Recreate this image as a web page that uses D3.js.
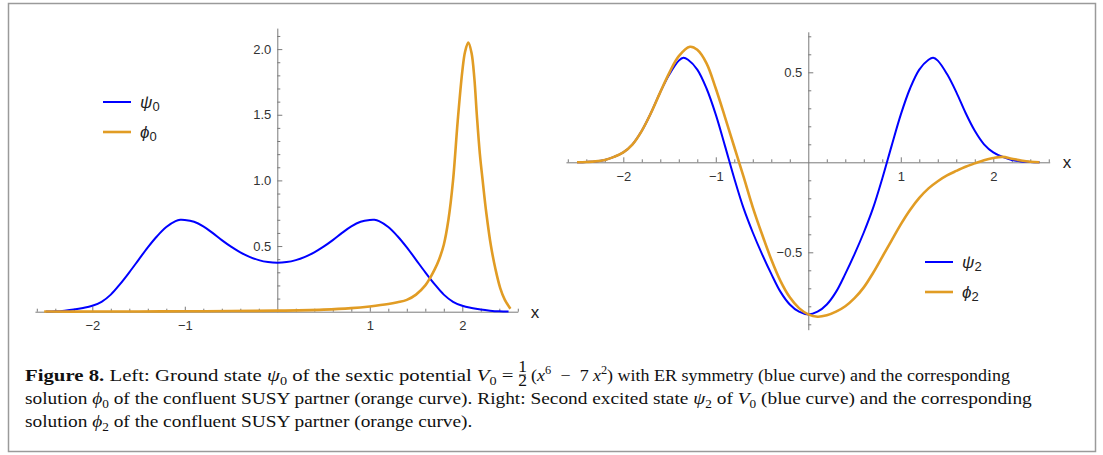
<!DOCTYPE html>
<html>
<head>
<meta charset="utf-8">
<script src="https://d3js.org/d3.v7.min.js"></script>
<style>
    body { margin: 0; background: #fff; }
    .tick text { font-family: "Liberation Sans", Arial, sans-serif; font-size: 13px; fill: #333; }
    .caption { font-family: "Liberation Serif", "DejaVu Serif", serif; font-size: 17.5px; fill: #111; }
</style>
</head>
<body>
<svg id="fig" width="1103" height="455"></svg>
<script>
// left panel: ground state and its partner, [x, y]
const psi0 = [[-2.5,0.001],[-2.4,0.003],[-2.3,0.008],[-2.2,0.016],[-2.1,0.028],[-2.0,0.045],[-1.9,0.075],
    [-1.8,0.13],[-1.7,0.21],[-1.6,0.30],[-1.5,0.395],[-1.4,0.49],[-1.3,0.575],[-1.2,0.645],[-1.1,0.69],
    [-1.05,0.70],[-1.0,0.699],[-0.9,0.685],[-0.8,0.65],[-0.7,0.60],[-0.6,0.545],[-0.5,0.495],[-0.4,0.452],
    [-0.3,0.418],[-0.2,0.393],[-0.1,0.378],[0,0.373],[0.1,0.378],[0.2,0.393],[0.3,0.418],[0.4,0.452],[0.5,0.495],
    [0.6,0.545],[0.7,0.60],[0.8,0.65],[0.9,0.685],[1.0,0.699],[1.05,0.70],[1.1,0.69],[1.2,0.645],[1.3,0.575],
    [1.4,0.49],[1.5,0.395],[1.6,0.30],[1.7,0.21],[1.8,0.13],[1.9,0.075],[2.0,0.045],[2.1,0.028],[2.2,0.016],
    [2.3,0.008],[2.4,0.003],[2.5,0.001]];
const phi0 = [[-2.52,0.001],[-2.0,0.001],[-1.5,0.002],[-1.0,0.003],[-0.5,0.005],[0,0.008],[0.5,0.016],
    [0.8,0.027],[1.0,0.04],[1.2,0.058],[1.3,0.072],[1.4,0.09],[1.5,0.13],[1.6,0.2],[1.65,0.255],[1.7,0.32],
    [1.75,0.40],[1.8,0.51],[1.85,0.70],[1.9,1.0],[1.95,1.45],[2.0,1.83],[2.03,1.98],[2.065,2.05],[2.1,1.97],
    [2.13,1.78],[2.157,1.5],[2.19,1.2],[2.22,1.0],[2.26,0.75],[2.31,0.5],[2.36,0.32],[2.41,0.18],[2.46,0.09],
    [2.52,0.023]];

// right panel: second excited state and its partner
const psi2 = [[-2.5,0.0],[-2.4,0.002],[-2.3,0.005],[-2.2,0.013],[-2.1,0.03],[-2.0,0.055],[-1.9,0.10],
    [-1.8,0.175],[-1.7,0.275],[-1.6,0.39],[-1.5,0.49],[-1.4,0.565],[-1.35,0.581],[-1.3,0.57],[-1.2,0.515],
    [-1.1,0.41],[-1.0,0.265],[-0.9,0.09],[-0.8,-0.09],[-0.7,-0.255],[-0.6,-0.39],[-0.5,-0.51],[-0.4,-0.62],
    [-0.3,-0.72],[-0.2,-0.79],[-0.1,-0.83],[0,-0.845],[0.1,-0.83],[0.2,-0.79],[0.3,-0.72],[0.4,-0.62],
    [0.5,-0.51],[0.6,-0.39],[0.7,-0.255],[0.8,-0.09],[0.9,0.09],[1.0,0.265],[1.1,0.41],[1.2,0.515],[1.3,0.57],
    [1.35,0.581],[1.4,0.565],[1.5,0.49],[1.6,0.39],[1.7,0.275],[1.8,0.175],[1.9,0.10],[2.0,0.055],[2.1,0.03],
    [2.2,0.013],[2.3,0.005],[2.4,0.002],[2.5,0.0]];
const phi2 = [[-2.5,0.0],[-2.4,0.002],[-2.3,0.005],[-2.2,0.013],[-2.1,0.03],[-2.0,0.055],[-1.9,0.10],
    [-1.8,0.175],[-1.7,0.275],[-1.6,0.39],[-1.5,0.50],[-1.4,0.59],[-1.28,0.642],[-1.2,0.625],[-1.1,0.55],
    [-1.0,0.41],[-0.9,0.25],[-0.8,0.085],[-0.7,-0.08],[-0.6,-0.25],[-0.5,-0.40],[-0.4,-0.54],[-0.3,-0.66],
    [-0.2,-0.75],[-0.1,-0.81],[0,-0.845],[0.1,-0.858],[0.2,-0.85],[0.3,-0.83],[0.4,-0.80],[0.5,-0.755],
    [0.6,-0.695],[0.7,-0.615],[0.8,-0.525],[0.9,-0.435],[1.0,-0.345],[1.1,-0.265],[1.2,-0.198],[1.3,-0.145],
    [1.4,-0.105],[1.5,-0.073],[1.6,-0.048],[1.7,-0.025],[1.8,-0.006],[1.9,0.012],[2.0,0.024],[2.1,0.03],
    [2.2,0.02],[2.3,0.01],[2.4,0.003],[2.5,0.0]];

const xTicks = [-2, -1, 1, 2];
const xTickLabels = ["\u22122", "\u22121", "1", "2"];
const yTicksL = [0.5, 1.0, 1.5, 2.0];
const yTickLabelsL = ["0.5", "1.0", "1.5", "2.0"];
const yTicksR = [-0.5, 0.5];
const yTickLabelsR = ["\u22120.5", "0.5"];

const blue = "#0000ff", orange = "#e19c24", axisCol = "#7a7a7a";
const svg = d3.select("#fig");

svg.append("rect")
    .attr("x", 8.5).attr("y", 3.5).attr("width", 1087).attr("height", 448)
    .attr("fill", "none").attr("stroke", "#9a9a9a").attr("stroke-width", 1.5);

function panel(cfg) {
    const x = d3.scaleLinear().domain(cfg.xDom).range(cfg.xRange);
    const y = d3.scaleLinear().domain(cfg.yDom).range(cfg.yRange);
    const g = svg.append("g");

    // minor ticks
    const xMinor = d3.range(-2.6, 2.61, 0.2).map(v => Math.round(v * 10) / 10)
        .filter(v => !xTicks.includes(v) && v !== 0);
    const yMinor = d3.range(cfg.yMinor[0], cfg.yMinor[1] + 0.001, 0.1).map(v => Math.round(v * 10) / 10)
        .filter(v => !cfg.yTicks.includes(v) && v !== 0);

    g.append("g").attr("transform", `translate(0,${y(0)})`)
        .call(d3.axisBottom(x).tickValues(xMinor).tickSize(-3).tickFormat(""))
        .call(a => a.select(".domain").remove());
    g.append("g").attr("transform", `translate(${x(0)},0)`)
        .call(d3.axisRight(y).tickValues(yMinor).tickSize(3).tickFormat(""))
        .call(a => a.select(".domain").remove());

    // major ticks + axis lines
    g.append("g").attr("transform", `translate(0,${y(0)})`)
        .call(d3.axisBottom(x).tickValues(xTicks).tickSize(-5).tickSizeOuter(0).tickPadding(9)
            .tickFormat((d, i) => xTickLabels[i]));
    g.append("g").attr("transform", `translate(${x(0)},0)`)
        .call(d3.axisLeft(y).tickValues(cfg.yTicks).tickSize(-5).tickSizeOuter(0).tickPadding(6)
            .tickFormat((d, i) => cfg.yLabels[i]));
    g.selectAll(".domain, .tick line").attr("stroke", axisCol);

    g.append("text").attr("x", x.range()[1] + 13).attr("y", y(0) + 6)
        .attr("font-family", "Liberation Sans, Arial, sans-serif").attr("font-size", 17).attr("fill", "#222")
        .text("x");

    const line = d3.line().x(d => x(d[0])).y(d => y(d[1])).curve(d3.curveCatmullRom.alpha(0.5));
    g.append("path").datum(cfg.psi).attr("d", line).attr("fill", "none")
        .attr("stroke", blue).attr("stroke-width", 2);
    g.append("path").datum(cfg.phi).attr("d", line).attr("fill", "none")
        .attr("stroke", orange).attr("stroke-width", 2.6);

    // legend
    const lg = g.append("g").attr("transform", `translate(${cfg.legend[0]},${cfg.legend[1]})`);
    [[blue, "\u03c8", 2], [orange, "\u03d5", 2.6]].forEach((s, i) => {
        lg.append("line").attr("x1", 0).attr("x2", 28).attr("y1", i * 30).attr("y2", i * 30)
            .attr("stroke", s[0]).attr("stroke-width", s[2]);
        const t = lg.append("text").attr("x", 37).attr("y", i * 30 + 6)
            .attr("font-family", "Liberation Sans, Arial, sans-serif").attr("font-size", 17).attr("fill", "#222");
        t.append("tspan").attr("font-style", "italic").text(s[1]);
        t.append("tspan").attr("font-size", 13).attr("dy", 3).text(cfg.sub);
    });
}

panel({
    xDom: [-2.62, 2.6], xRange: [34.95, 517.8],
    yDom: [0, 2.16], yRange: [311.7, 28.1],
    yTicks: yTicksL, yLabels: yTickLabelsL, yMinor: [0.1, 2.1],
    psi: psi0, phi: phi0, sub: "0", legend: [103, 102]
});
panel({
    xDom: [-2.62, 2.61], xRange: [565.95, 1049.7],
    yDom: [-0.93, 0.725], yRange: [329.7, 31.8],
    yTicks: yTicksR, yLabels: yTickLabelsR, yMinor: [-0.9, 0.7],
    psi: psi2, phi: phi2, sub: "2", legend: [925, 262]
});

// caption pieces are squeezed horizontally to the span they take in the figure
function captionText(parts) {
    const t = svg.append("text").attr("class", "caption");
    parts.forEach(p => {
        const s = t.append("tspan").text(p[0]);
        if (p[1] === "b") s.attr("font-weight", "bold");
        if (p[1] === "i") s.attr("font-style", "italic");
        if (p[1] === "sub") s.attr("font-size", 12).attr("dy", 4);
        if (p[1] === "sup") s.attr("font-size", 12).attr("dy", -7);
        if (p[2]) s.attr("dy", p[2]);
        if (p[3]) s.attr("dx", p[3]);
    });
    return t;
}
function fit(t, x0, x1, base, extra) {
    const s = (x1 - x0) / (t.node().getComputedTextLength() + (extra || 0));
    t.attr("transform", `translate(${x0},${base}) scale(${s},1)`);
    return s;
}

const line2 = captionText([["solution "], ["\u03d5", "i"], ["0", "sub"],
    [" of the confluent SUSY partner (orange curve). Right: Second excited state ", "", -4],
    ["\u03c8", "i"], ["2", "sub"], [" of ", "", -4], ["V", "i"], ["0", "sub"],
    [" (blue curve) and the corresponding", "", -4]]);
const sx = fit(line2, 25, 1033, 404);

fit(captionText([["Figure 8.", "b"], [" Left: Ground state "], ["\u03c8", "i"], ["0", "sub"],
    [" of the sextic potential ", "", -4], ["V", "i"], ["0", "sub"], [" =", "", -4]]), 25, 514, 381);
fit(captionText([["("], ["x", "i"], ["6", "sup"], ["\u2212", "", 7, 9], ["7", "", 0, 9],
    ["x", "i", 0, 4], ["2", "sup"], [") with ER symmetry (blue curve) and the corresponding", "", 7]]),
    531, 1010, 381, 22);

const fx = 522.5;
svg.append("text").attr("class", "caption").attr("x", fx).attr("y", 371.5).attr("text-anchor", "middle")
    .attr("font-size", 10).text("1");
svg.append("line").attr("x1", fx - 3.5).attr("x2", fx + 3.5).attr("y1", 375).attr("y2", 375)
    .attr("stroke", "#111").attr("stroke-width", 0.8);
svg.append("text").attr("class", "caption").attr("x", fx).attr("y", 386).attr("text-anchor", "middle")
    .attr("font-size", 10).text("2");

captionText([["solution "], ["\u03d5", "i"], ["2", "sub"],
    [" of the confluent SUSY partner (orange curve).", "", -4]])
    .attr("transform", `translate(25,427) scale(${sx},1)`);
</script>
</body>
</html>
